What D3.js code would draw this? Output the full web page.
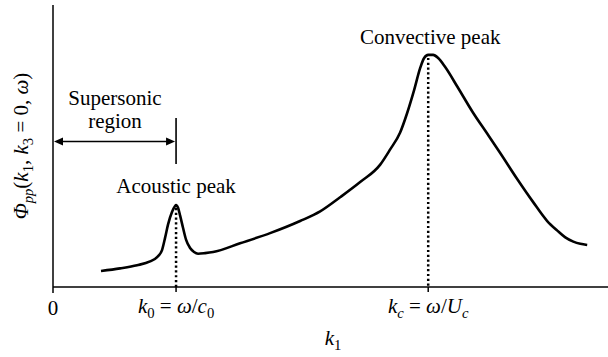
<!DOCTYPE html>
<html><head><meta charset="utf-8">
<script src="https://cdn.jsdelivr.net/npm/d3@7"></script>
</head>
<body style="margin:0;background:#fff">
<script>
// ---- data (k1 in units of k0; spectrum in arbitrary units) ----
const kValues = [0.390,0.545,0.683,0.789,0.846,0.886,0.911,0.935,0.967,0.992,1.000,1.016,1.033,1.057,1.081,1.114,1.146,1.179,1.236,1.301,1.520,1.764,2.008,2.171,2.333,2.496,2.659,2.740,2.821,2.878,2.935,2.984,3.016,3.049,3.089,3.130,3.187,3.285,3.415,3.528,3.634,3.772,3.902,4.016,4.098,4.163,4.228,4.285,4.341];
const phiValues = [0.057,0.066,0.077,0.091,0.106,0.131,0.175,0.222,0.266,0.287,0.291,0.281,0.253,0.209,0.168,0.138,0.124,0.118,0.120,0.124,0.155,0.191,0.234,0.268,0.318,0.372,0.434,0.488,0.548,0.617,0.699,0.777,0.812,0.823,0.823,0.812,0.780,0.711,0.617,0.544,0.475,0.383,0.301,0.234,0.200,0.176,0.161,0.153,0.149];
const peakK = [1.0, 3.049];
const peakPhi = [0.291, 0.823];
const peakNames = ["Acoustic peak", "Convective peak"];
const kDomain = [0, 4.51];
const phiDomain = [0, 1];

const W = 608, H = 357;
const svg = d3.select("body").append("svg").attr("width", W).attr("height", H).style("display", "block");
const x = d3.scaleLinear().domain(kDomain).range([53, 608]);
const y = d3.scaleLinear().domain(phiDomain).range([287, 5]);
const FS = 21;

// axes
svg.append("line").attr("x1", x(0)).attr("x2", W).attr("y1", y(0)).attr("y2", y(0))
  .attr("stroke", "#000").attr("stroke-width", 1.5);
svg.append("line").attr("x1", x(0)).attr("x2", x(0)).attr("y1", y(0) + 6).attr("y2", y(1))
  .attr("stroke", "#000").attr("stroke-width", 1.5);
peakK.forEach(k => {
  svg.append("line").attr("x1", x(k)).attr("x2", x(k)).attr("y1", y(0)).attr("y2", y(0) + 5)
    .attr("stroke", "#000").attr("stroke-width", 1.5);
});

// dotted verticals
peakK.forEach((k, i) => {
  svg.append("line").attr("x1", x(k)).attr("x2", x(k)).attr("y1", y(peakPhi[i]) + 3).attr("y2", y(0))
    .attr("stroke", "#000").attr("stroke-width", 2.5).attr("stroke-dasharray", "2.2,2.6");
});

// curve
const pts = kValues.map((k, i) => [k, phiValues[i]]);
svg.append("path").datum(pts)
  .attr("d", d3.line().x(d => x(d[0])).y(d => y(d[1])).curve(d3.curveMonotoneX))
  .attr("fill", "none").attr("stroke", "#000").attr("stroke-width", 2.6)
  .attr("stroke-linejoin", "round").attr("stroke-linecap", "butt");

function txt(parent) {
  return parent.append("text").style("font-family", `"Liberation Serif"`).style("font-size", FS + "px").attr("fill", "#000");
}

// peak labels
peakK.forEach((k, i) => {
  txt(svg).attr("x", x(k) + (i ? 2 : 0)).attr("y", i ? 44 : 193)
    .attr("text-anchor", "middle").text(peakNames[i]);
});

// supersonic region arrow
const ay = 141.5;
svg.append("line").attr("x1", x(0) + 6).attr("x2", x(peakK[0]) - 6).attr("y1", ay).attr("y2", ay)
  .attr("stroke", "#000").attr("stroke-width", 1.6);
svg.append("path").attr("d", `M${x(0)+1},${ay} l9,-4 l0,8 z`).attr("fill", "#000");
svg.append("path").attr("d", `M${x(peakK[0])-1},${ay} l-9,-4 l0,8 z`).attr("fill", "#000");
svg.append("line").attr("x1", x(peakK[0])).attr("x2", x(peakK[0])).attr("y1", 118).attr("y2", 164)
  .attr("stroke", "#000").attr("stroke-width", 1.6);
txt(svg).attr("x", 115).attr("y", 105).attr("text-anchor", "middle").text("Supersonic");
txt(svg).attr("x", 115).attr("y", 128).attr("text-anchor", "middle").text("region");

// math-style labels
function mathLabel(parent, xx, yy, parts) {
  const t = txt(parent).attr("x", xx).attr("y", yy).attr("text-anchor", "middle");
  parts.forEach(p => {
    const s = t.append("tspan").text(p.t);
    if (p.i) s.style("font-style", "italic");
    if (p.sub) s.style("font-size", (FS * 0.7) + "px").attr("dy", 5);
    if (p.back) s.attr("dy", -5);
  });
  return t;
}
txt(svg).attr("x", x(0)).attr("y", 315).attr("text-anchor", "middle").text("0");
mathLabel(svg, x(peakK[0]), 313, [
  {t: "k", i: 1}, {t: "0", sub: 1}, {t: " = ", back: 1}, {t: "ω", i: 1}, {t: "/"}, {t: "c", i: 1}, {t: "0", sub: 1}
]);
mathLabel(svg, x(peakK[1]), 313, [
  {t: "k", i: 1}, {t: "c", sub: 1, i: 1}, {t: " = ", back: 1}, {t: "ω", i: 1}, {t: "/"}, {t: "U", i: 1}, {t: "c", sub: 1, i: 1}
]);
mathLabel(svg, 333, 345, [{t: "k", i: 1}, {t: "1", sub: 1}]);

// y label
const yl = svg.append("g").attr("transform", "translate(28,146) rotate(-90)");
mathLabel(yl, 0, 0, [
  {t: "Φ", i: 1}, {t: "pp", sub: 1, i: 1}, {t: "(", back: 1}, {t: "k", i: 1}, {t: "1", sub: 1},
  {t: ", ", back: 1}, {t: "k", i: 1}, {t: "3", sub: 1}, {t: " = 0, ", back: 1}, {t: "ω", i: 1}, {t: ")"}
]);
</script>
</body></html>
